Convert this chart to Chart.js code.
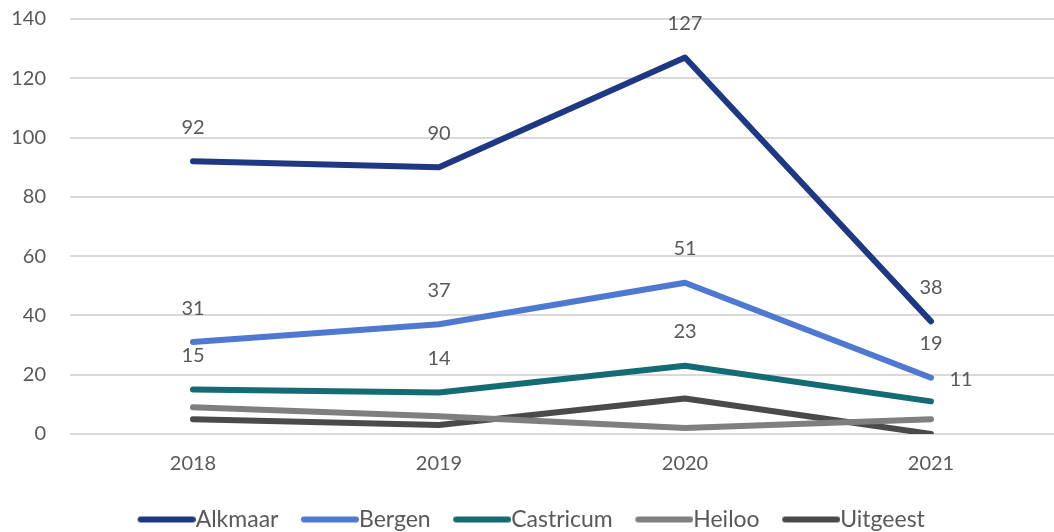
<!DOCTYPE html>
<html>
<head>
<meta charset="utf-8">
<script src="https://cdn.jsdelivr.net/npm/chart.js@4/dist/chart.umd.min.js"></script>
<style>
  html, body { margin: 0; padding: 0; background: #fff; }
  #wrap { width: 1054px; height: 532px; }
</style>
</head>
<body>
<div id="wrap"><canvas id="myChart" width="1054" height="532"></canvas></div>
<script>
// years on the x axis
const years = ['2018', '2019', '2020', '2021'];

// counts per gemeente
const alkmaar = [92, 90, 127, 38];
const bergen = [31, 37, 51, 19];
const castricum = [15, 14, 23, 11];
const heiloo = [9, 6, 2, 5];
const uitgeest = [5, 3, 12, 0];

const yTicks = [0, 20, 40, 60, 80, 100, 120, 140];

const textColor = '#595959';
const fontFamily = 'Lato, "Open Sans", sans-serif';

// legend geometry: the swatch image is wider than the legend box so the
// line ends right where the label text starts
const legendFont = 23;
const legendPad = 14;
const legendBox = 55;
const swatchLen = 58;

function swatch(color) {
    const c = document.createElement('canvas');
    c.width = legendBox + legendFont;
    c.height = 8;
    const g = c.getContext('2d');
    g.strokeStyle = color;
    g.lineWidth = 6;
    g.lineCap = 'round';
    g.beginPath();
    g.moveTo(c.width - swatchLen + 3, 4);
    g.lineTo(c.width - 3, 4);
    g.stroke();
    return c;
}

// draws the value above each point for the series that have labels
const valueLabels = {
    id: 'valueLabels',
    afterDatasetsDraw(chart) {
        const ctx = chart.ctx;
        ctx.save();
        ctx.font = '20px ' + fontFamily;
        ctx.fillStyle = textColor;
        ctx.textAlign = 'center';
        ctx.textBaseline = 'bottom';
        chart.data.datasets.forEach((ds, i) => {
            if (!ds.showValues) return;
            const meta = chart.getDatasetMeta(i);
            meta.data.forEach((pt, j) => {
                let dx = 0, dy = -24;
                if (ds.labelShift && ds.labelShift[j]) {
                    dx = ds.labelShift[j][0];
                    dy = ds.labelShift[j][1];
                }
                ctx.fillText(String(ds.data[j]), pt.x + dx, pt.y + dy);
            });
        });
        ctx.restore();
    }
};

function line(label, data, color, extra) {
    return Object.assign({
        label: label,
        data: data,
        borderColor: color,
        backgroundColor: color,
        borderWidth: 6,
        borderCapStyle: 'round',
        borderJoinStyle: 'round',
        pointRadius: 0,
        pointHoverRadius: 0,
        pointStyle: swatch(color),
        tension: 0,
        fill: false
    }, extra || {});
}

new Chart(document.getElementById('myChart').getContext('2d'), {
    type: 'line',
    data: {
        labels: years,
        datasets: [
            line('Alkmaar', alkmaar, '#1f3883', { showValues: true }),
            line('Bergen', bergen, '#4f79d0', { showValues: true }),
            line('Castricum', castricum, '#136b74', { showValues: true, labelShift: { 3: [30, -12] } }),
            line('Heiloo', heiloo, '#7f7f80'),
            line('Uitgeest', uitgeest, '#4a4a4a')
        ]
    },
    options: {
        responsive: false,
        animation: false,
        events: [],
        layout: { padding: { top: 19, right: 0, left: 0, bottom: -9 } },
        plugins: {
            tooltip: { enabled: false },
            legend: {
                position: 'bottom',
                labels: {
                    usePointStyle: true,
                    pointStyleWidth: legendBox,
                    boxWidth: legendBox,
                    boxHeight: 8,
                    padding: legendPad,
                    color: textColor,
                    font: { family: fontFamily, size: legendFont }
                }
            }
        },
        scales: {
            x: {
                offset: true,
                grid: { display: false, drawTicks: false },
                border: { display: false },
                ticks: {
                    color: textColor,
                    padding: 18,
                    font: { family: fontFamily, size: 20 }
                }
            },
            y: {
                min: 0,
                max: 140,
                afterBuildTicks(axis) {
                    axis.ticks = yTicks.map(v => ({ value: v }));
                },
                afterFit(axis) {
                    axis.width = 70;
                    axis.paddingTop = 0;
                    axis.paddingBottom = 0;
                },
                grid: { color: '#d9d9d9', lineWidth: 2, drawTicks: false },
                border: { display: false },
                ticks: {
                    color: textColor,
                    padding: 24,
                    font: { family: fontFamily, size: 20 }
                }
            }
        }
    },
    plugins: [valueLabels]
});
</script>
</body>
</html>
